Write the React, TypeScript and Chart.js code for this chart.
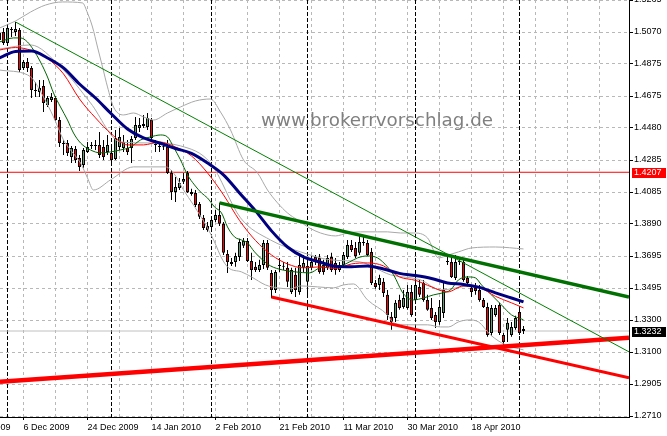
import React, { useEffect, useRef } from 'react';
import { Chart, registerables } from 'chart.js';

Chart.register(...registerables);

// ---------------- data ----------------
// Daily EUR/USD bars (incl. Sunday sessions). Bar index 0 = 1 Dec 2009.
const firstBarIndex = -2;

const opens = [
  1.5019, 1.5069, 1.5001, 1.5087, 1.5069, 1.5081, 1.4848, 1.4884, 1.4848, 1.4712,
  1.4700, 1.4737, 1.4620, 1.4651, 1.4663, 1.4528, 1.4387, 1.4387, 1.4301, 1.4350,
  1.4295, 1.4252, 1.4332, 1.4369, 1.4369, 1.4375, 1.4362, 1.4332, 1.4326, 1.4289,
  1.4362, 1.4356, 1.4356, 1.4356, 1.4418, 1.4479, 1.4491, 1.4485, 1.4528, 1.4375,
  1.4362, 1.4362, 1.4362, 1.4203, 1.4086, 1.4111, 1.4148, 1.4203, 1.4086, 1.4080,
  1.4012, 1.3927, 1.3877, 1.3871, 1.3914, 1.3945, 1.3890, 1.3705, 1.3656, 1.3656,
  1.3687, 1.3755, 1.3785, 1.3662, 1.3626, 1.3607, 1.3638, 1.3773, 1.3589, 1.3484,
  1.3632, 1.3632, 1.3620, 1.3472, 1.3577, 1.3472, 1.3620, 1.3534, 1.3620, 1.3687,
  1.3681, 1.3638, 1.3620, 1.3687, 1.3650, 1.3607, 1.3638, 1.3687, 1.3761, 1.3742,
  1.3712, 1.3773, 1.3773, 1.3718, 1.3527, 1.3515, 1.3534, 1.3454, 1.3319, 1.3312,
  1.3423, 1.3380, 1.3374, 1.3472, 1.3423, 1.3503, 1.3527, 1.3423, 1.3374, 1.3331,
  1.3288, 1.3343, 1.3656, 1.3656, 1.3558, 1.3656, 1.3656, 1.3558, 1.3497, 1.3497,
  1.3484, 1.3423, 1.3380, 1.3220, 1.3331, 1.3392, 1.3208, 1.3239, 1.3208, 1.3251,
  1.3349, 1.3245,
];
const highs = [
  1.5081, 1.5093, 1.5112, 1.5099, 1.5130, 1.5093, 1.4897, 1.4909, 1.4860, 1.4762,
  1.4774, 1.4774, 1.4676, 1.4694, 1.4676, 1.4547, 1.4405, 1.4405, 1.4369, 1.4369,
  1.4313, 1.4356, 1.4393, 1.4393, 1.4405, 1.4455, 1.4405, 1.4436, 1.4375, 1.4467,
  1.4479, 1.4436, 1.4405, 1.4430, 1.4547, 1.4541, 1.4559, 1.4571, 1.4541, 1.4405,
  1.4387, 1.4381, 1.4405, 1.4221, 1.4178, 1.4172, 1.4203, 1.4215, 1.4105, 1.4098,
  1.4025, 1.3945, 1.3902, 1.3927, 1.3976, 1.4019, 1.3902, 1.3730, 1.3681, 1.3712,
  1.3798, 1.3804, 1.3804, 1.3712, 1.3656, 1.3669, 1.3791, 1.3791, 1.3607, 1.3607,
  1.3681, 1.3656, 1.3656, 1.3620, 1.3620, 1.3699, 1.3699, 1.3681, 1.3699, 1.3699,
  1.3705, 1.3669, 1.3699, 1.3712, 1.3681, 1.3656, 1.3718, 1.3791, 1.3791, 1.3779,
  1.3816, 1.3816, 1.3791, 1.3742, 1.3546, 1.3577, 1.3558, 1.3484, 1.3349, 1.3423,
  1.3454, 1.3484, 1.3515, 1.3515, 1.3558, 1.3546, 1.3546, 1.3454, 1.3435, 1.3349,
  1.3423, 1.3527, 1.3687, 1.3699, 1.3699, 1.3681, 1.3681, 1.3570, 1.3515, 1.3527,
  1.3515, 1.3435, 1.3405, 1.3392, 1.3392, 1.3405, 1.3220, 1.3312, 1.3288, 1.3325,
  1.3362, 1.3263,
];
const lows = [
  1.4995, 1.4989, 1.4995, 1.5038, 1.5044, 1.4823, 1.4835, 1.4823, 1.4663, 1.4669,
  1.4669, 1.4577, 1.4608, 1.4639, 1.4522, 1.4362, 1.4313, 1.4307, 1.4264, 1.4264,
  1.4215, 1.4234, 1.4326, 1.4350, 1.4344, 1.4295, 1.4283, 1.4313, 1.4258, 1.4283,
  1.4344, 1.4332, 1.4313, 1.4264, 1.4405, 1.4455, 1.4479, 1.4467, 1.4405, 1.4332,
  1.4332, 1.4344, 1.4197, 1.4037, 1.4025, 1.4098, 1.4135, 1.4080, 1.4062, 1.3994,
  1.3920, 1.3853, 1.3841, 1.3859, 1.3902, 1.3877, 1.3699, 1.3589, 1.3632, 1.3626,
  1.3662, 1.3742, 1.3656, 1.3546, 1.3595, 1.3595, 1.3613, 1.3607, 1.3435, 1.3466,
  1.3595, 1.3607, 1.3503, 1.3460, 1.3441, 1.3454, 1.3595, 1.3441, 1.3607, 1.3638,
  1.3583, 1.3577, 1.3607, 1.3595, 1.3577, 1.3595, 1.3620, 1.3675, 1.3718, 1.3681,
  1.3699, 1.3755, 1.3693, 1.3515, 1.3491, 1.3484, 1.3441, 1.3300, 1.3239, 1.3288,
  1.3362, 1.3368, 1.3362, 1.3319, 1.3405, 1.3441, 1.3411, 1.3356, 1.3300, 1.3251,
  1.3270, 1.3312, 1.3638, 1.3558, 1.3546, 1.3638, 1.3534, 1.3503, 1.3441, 1.3454,
  1.3411, 1.3374, 1.3196, 1.3202, 1.3319, 1.3208, 1.3147, 1.3165, 1.3196, 1.3239,
  1.3208, 1.3214,
];
const closes = [
  1.5062, 1.5001, 1.5093, 1.5081, 1.5087, 1.4835, 1.4884, 1.4848, 1.4712, 1.4706,
  1.4725, 1.4633, 1.4663, 1.4669, 1.4528, 1.4387, 1.4381, 1.4326, 1.4356, 1.4283,
  1.4240, 1.4344, 1.4362, 1.4368, 1.4375, 1.4313, 1.4301, 1.4375, 1.4283, 1.4418,
  1.4424, 1.4393, 1.4332, 1.4412, 1.4498, 1.4498, 1.4504, 1.4541, 1.4418, 1.4381,
  1.4369, 1.4360, 1.4203, 1.4086, 1.4117, 1.4141, 1.4166, 1.4086, 1.4074, 1.4006,
  1.3933, 1.3865, 1.3853, 1.3914, 1.3945, 1.3890, 1.3712, 1.3656, 1.3644, 1.3693,
  1.3779, 1.3785, 1.3662, 1.3607, 1.3607, 1.3638, 1.3773, 1.3620, 1.3484, 1.3595,
  1.3638, 1.3626, 1.3534, 1.3607, 1.3484, 1.3638, 1.3650, 1.3632, 1.3656, 1.3656,
  1.3595, 1.3595, 1.3681, 1.3607, 1.3607, 1.3638, 1.3699, 1.3761, 1.3730, 1.3693,
  1.3779, 1.3779, 1.3699, 1.3527, 1.3503, 1.3558, 1.3466, 1.3331, 1.3288, 1.3405,
  1.3374, 1.3435, 1.3472, 1.3331, 1.3515, 1.3454, 1.3423, 1.3362, 1.3312, 1.3288,
  1.3380, 1.3484, 1.3662, 1.3564, 1.3656, 1.3662, 1.3546, 1.3527, 1.3472, 1.3478,
  1.3423, 1.3380, 1.3208, 1.3374, 1.3374, 1.3220, 1.3165, 1.3282, 1.3257, 1.3312,
  1.3220, 1.3232,
];

// x axis: date labels (bar index) and grid positions
const xTickIdx = [-12, 4, 20, 36, 52, 68, 84, 100, 116];
const xTickLabels = [
  '17 Nov 2009', '6 Dec 2009', '24 Dec 2009', '14 Jan 2010', '2 Feb 2010',
  '21 Feb 2010', '11 Mar 2010', '30 Mar 2010', '18 Apr 2010',
];
const xGridIdx = [-12, -4, 4, 12, 20, 28, 36, 44, 52, 60, 68, 76, 84, 92, 100, 108, 116, 124, 132, 140, 148];
const monthStartIdx = [0, 26, 51, 75, 102, 128];

// y axis labels (top to bottom)
const yTickLabels = [
  '1.5265', '1.5070', '1.4875', '1.4675', '1.4480', '1.4285', '1.4085',
  '1.3890', '1.3695', '1.3495', '1.3300', '1.3100', '1.2905', '1.2710',
];

// Moving averages (sampled every 4 bars)
const maIdx = [-2, 2, 6, 10, 14, 18, 22, 26, 30, 34, 38, 42, 46, 50, 54, 58, 62, 66, 70, 74, 78, 82, 86, 90, 94, 98, 102, 106, 110, 114, 118, 122, 126, 129];
const navyMA = [
  1.4909, 1.4949, 1.4952, 1.4909, 1.4848, 1.4749, 1.4663, 1.4565, 1.4473, 1.4418,
  1.4387, 1.4353, 1.4323, 1.4264, 1.4191, 1.4080, 1.3970, 1.3847, 1.3748, 1.3687,
  1.3656, 1.3629, 1.3626, 1.3632, 1.3613, 1.3586, 1.3573, 1.3555, 1.3527, 1.3518,
  1.3500, 1.3466, 1.3435, 1.3411,
];
const redMA = [
  1.4958, 1.4973, 1.4955, 1.4906, 1.4811, 1.4657, 1.4541, 1.4442, 1.4375, 1.4375,
  1.4393, 1.4362, 1.4307, 1.4203, 1.4068, 1.3911, 1.3788, 1.3699, 1.3644, 1.3620,
  1.3626, 1.3616, 1.3644, 1.3650, 1.3632, 1.3564, 1.3543, 1.3503, 1.3472, 1.3509,
  1.3499, 1.3445, 1.3405, 1.3374,
];
const greenIdx = [
  -2, 1.5, 3.25, 5, 6.5, 8.25, 10, 11.5, 13.25, 15, 16.5, 18.25, 20.75, 23.25, 25.75,
  28.25, 30.75, 33.25, 35.75, 38.25, 40, 41.5, 43.25, 45, 46.75, 48.5, 50, 51.75, 53.5,
  55, 56.75, 58.5, 60, 61.75, 63.75, 65.75, 68.75, 72, 75.5, 78, 80.5, 83, 85.5, 87.5,
  90, 92.5, 95, 96.5, 99, 101.5, 104, 106.5, 108.75, 110.75, 112.75, 115.25, 117, 118.5,
  121, 123.5, 126, 128.5, 129,
];
const greenMA = [
  1.5007, 1.5032, 1.5032, 1.5007, 1.4958, 1.4884, 1.4792, 1.4694, 1.4608, 1.4528, 1.4448,
  1.4387, 1.4344, 1.4326, 1.4332, 1.4344, 1.4362, 1.4405, 1.4424, 1.4436, 1.4424, 1.4362,
  1.4283, 1.4191, 1.4129, 1.4080, 1.4049, 1.3994, 1.3957, 1.3871, 1.3810, 1.3791, 1.3773,
  1.3718, 1.3669, 1.3632, 1.3607, 1.3595, 1.3589, 1.3620, 1.3638, 1.3632, 1.3656, 1.3681,
  1.3693, 1.3681, 1.3626, 1.3577, 1.3460, 1.3423, 1.3435, 1.3454, 1.3466, 1.3484, 1.3546,
  1.3564, 1.3558, 1.3515, 1.3454, 1.3392, 1.3331, 1.3306, 1.3300,
];

// Bollinger bands
const bbUpperIdx = [
  -2, 2, 5.75, 9.5, 13.75, 18.75, 20, 21.25, 22.5, 23.75, 25, 26.5, 29, 31.5, 34, 36.5,
  40, 43.25, 47, 50.75, 53.25, 55.75, 59, 62.5, 65, 67.5, 70, 72.5, 75.5, 78.25, 82, 85,
  88.25, 92.5, 95, 98.25, 101.5, 105, 107.75, 110.25, 112.75, 116, 122, 129,
];
const bbUpper = [
  1.5093, 1.5136, 1.5191, 1.5234, 1.5253, 1.5247, 1.5185, 1.5099, 1.4976, 1.4854, 1.4731,
  1.4608, 1.4559, 1.4571, 1.4547, 1.4528, 1.4571, 1.4608, 1.4645, 1.4657, 1.4577, 1.4467,
  1.4283, 1.4203, 1.4098, 1.4019, 1.3957, 1.3914, 1.3865, 1.3834, 1.3816, 1.3834, 1.3841,
  1.3841, 1.3841, 1.3834, 1.3834, 1.3804, 1.3681, 1.3699, 1.3718, 1.3742, 1.3748, 1.3736,
];
const bbMidIdx = [-2, 5.75, 13.25, 20.75, 28.25, 35.75, 43.25, 50.75, 58.25, 65.75, 73.25, 80.75, 88.25, 95.75, 103.25, 108.25, 115.75, 123.25, 129];
const bbMid = [
  1.4964, 1.4989, 1.4854, 1.4633, 1.4393, 1.4387, 1.4369, 1.4264, 1.3927, 1.3791,
  1.3718, 1.3669, 1.3656, 1.3577, 1.3546, 1.3484, 1.3509, 1.3454, 1.3417,
];
const bbLowerIdx = [
  -2, 5, 6.5, 9, 11.5, 14, 15.75, 18.25, 20, 21.5, 25.75, 31.5, 35.75, 39.5, 41.5, 44,
  46.5, 50, 51.75, 53.5, 55.25, 58.5, 61, 64.5, 67.5, 70.75, 73.25, 77.5, 81.5, 84, 86.5,
  90, 95, 96.5, 100, 105, 108.25, 110.25, 112.75, 115.25, 117.75, 120.75, 124.5, 129,
];
const bbLower = [
  1.4835, 1.4805, 1.4774, 1.4669, 1.4547, 1.4405, 1.4344, 1.4264, 1.4172, 1.4098, 1.4160,
  1.4240, 1.4240, 1.4240, 1.4203, 1.4098, 1.4006, 1.3865, 1.3779, 1.3681, 1.3620, 1.3595,
  1.3564, 1.3515, 1.3497, 1.3491, 1.3509, 1.3503, 1.3497, 1.3515, 1.3521, 1.3423, 1.3331,
  1.3282, 1.3270, 1.3270, 1.3257, 1.3257, 1.3288, 1.3300, 1.3288, 1.3208, 1.3147, 1.3116,
];

// Trend lines (start / end, bar index and price)
const thinGreenIdx = [2, 155.375];
const thinGreenVal = [1.5130, 1.3104];
const thickGreenIdx = [53, 155.375];
const thickGreenVal = [1.4019, 1.3441];
const fallingRedIdx = [66, 155.375];
const fallingRedVal = [1.3441, 1.2944];
const risingRedIdx = [-1.875, 155.375];
const risingRedVal = [1.2920, 1.3190];

const redLevel = 1.4207;
const lastPrice = 1.3232;

// ---------------- component ----------------
export default function App() {
  const canvasRef = useRef<HTMLCanvasElement | null>(null);

  useEffect(() => {
    const canvas = canvasRef.current;
    if (!canvas) return;

    const xMin = -1.875;
    const xMax = 155.375;
    const yTop = parseFloat(yTickLabels[0]);
    const yBottomLabel = parseFloat(yTickLabels[yTickLabels.length - 1]);
    const yStep = (yTop - yBottomLabel) / (yTickLabels.length - 1);
    const yMin = yBottomLabel - yStep / 32;

    const tickFont = { family: '"Liberation Sans", Arial, sans-serif', size: 9 };
    const UP = '#5f9f72';
    const DOWN = '#ff0000';
    const BAND = '#a8a8a8';

    const pts = (idx: number[], val: number[]) => idx.map((x, k) => ({ x, y: val[k] }));
    const wicks = opens.map((_, k) => ({ x: k + firstBarIndex, y: [lows[k], highs[k]] }));
    const bodies = opens.map((o, k) => ({
      x: k + firstBarIndex,
      y: [Math.min(o, closes[k]), Math.max(o, closes[k])],
    }));
    const bodyColors = opens.map((o, k) => (closes[k] > o ? UP : DOWN));

    const lineDs = (data: any[], color: string, width: number, order: number, smooth = true) => ({
      type: 'line' as const,
      data,
      borderColor: color,
      backgroundColor: color,
      borderWidth: width,
      pointRadius: 0,
      fill: false,
      cubicInterpolationMode: smooth ? ('monotone' as const) : ('default' as const),
      tension: 0,
      order,
    });

    const backgroundPlugin = {
      id: 'bgDecor',
      beforeDatasetsDraw(chart: any) {
        const { ctx, chartArea } = chart;
        const xs = chart.scales.x;
        ctx.save();
        // watermark
        ctx.font = '18.3px "DejaVu Sans", Verdana, sans-serif';
        ctx.fillStyle = '#808080';
        ctx.textBaseline = 'alphabetic';
        ctx.textAlign = 'left';
        ctx.fillText('www.brokerrvorschlag.de', 261, 126);
        // period separators
        ctx.strokeStyle = '#000';
        ctx.lineWidth = 1;
        ctx.setLineDash([4, 2]);
        monthStartIdx.forEach((m) => {
          const px = Math.floor(xs.getPixelForValue(m)) + 0.5;
          ctx.beginPath();
          ctx.moveTo(px, chartArea.top);
          ctx.lineTo(px, chartArea.bottom);
          ctx.stroke();
        });
        ctx.restore();
      },
    };

    const tagPlugin = {
      id: 'priceTags',
      afterDraw(chart: any) {
        const { ctx, chartArea } = chart;
        const ys = chart.scales.y;
        const tag = (value: number, bg: string) => {
          const y = Math.round(ys.getPixelForValue(value));
          ctx.save();
          ctx.fillStyle = bg;
          ctx.fillRect(chartArea.right + 3, y - 4, 34, 10);
          ctx.fillStyle = '#fff';
          ctx.font = '9px "Liberation Sans", Arial, sans-serif';
          ctx.textAlign = 'left';
          ctx.textBaseline = 'middle';
          ctx.fillText(value.toFixed(4), chartArea.right + 5, y + 1);
          ctx.restore();
        };
        tag(redLevel, '#ff0000');
        tag(lastPrice, '#000000');
      },
    };

    const chart = new Chart(canvas, {
      type: 'bar',
      data: {
        datasets: [
          // trend lines (top)
          lineDs(pts(thinGreenIdx, thinGreenVal), '#008000', 1, 1, false),
          lineDs(pts(thickGreenIdx, thickGreenVal), '#007000', 3.5, 2, false),
          lineDs(pts(fallingRedIdx, fallingRedVal), '#ff0000', 3, 3, false),
          lineDs(pts(risingRedIdx, risingRedVal), '#ff0000', 4.5, 4, false),
          // indicators
          lineDs(pts(maIdx, navyMA), '#000080', 3, 5),
          lineDs(pts(maIdx, redMA), '#ff0000', 1, 6),
          lineDs(pts(greenIdx, greenMA), '#006400', 1, 7),
          lineDs(pts(bbUpperIdx, bbUpper), BAND, 1, 8),
          lineDs(pts(bbMidIdx, bbMid), BAND, 1, 8),
          lineDs(pts(bbLowerIdx, bbLower), BAND, 1, 8),
          // candles
          {
            type: 'bar' as const,
            data: bodies as any,
            backgroundColor: bodyColors,
            borderColor: '#000',
            borderWidth: 1,
            borderSkipped: false,
            barThickness: 3,
            minBarLength: 1,
            inflateAmount: 0,
            grouped: false,
            order: 9,
          },
          {
            type: 'bar' as const,
            data: wicks as any,
            backgroundColor: '#000',
            borderWidth: 0,
            barThickness: 1,
            inflateAmount: 0,
            grouped: false,
            order: 10,
          },
          // horizontal levels (bottom)
          lineDs([{ x: xMin, y: redLevel }, { x: xMax, y: redLevel }], '#ff0000', 1, 11, false),
          lineDs([{ x: xMin, y: lastPrice }, { x: xMax, y: lastPrice }], '#c0c0c0', 1, 12, false),
        ] as any,
      },
      options: {
        animation: false,
        responsive: false,
        devicePixelRatio: 1,
        events: [],
        layout: { padding: 0 },
        plugins: {
          legend: { display: false },
          tooltip: { enabled: false },
          title: { display: false },
        },
        scales: {
          x: {
            type: 'linear',
            position: 'bottom',
            min: xMin,
            max: xMax,
            offset: false,
            grid: {
              offset: false,
              color: '#b8b8b8',
              lineWidth: 1,
              tickLength: 3,
              tickColor: (c: any) =>
                c.tick && xTickIdx.includes(c.tick.value) ? '#000' : 'rgba(0,0,0,0)',
            },
            border: { display: true, color: '#000', width: 1, dash: [3, 3], z: 1 },
            ticks: {
              autoSkip: false,
              maxRotation: 0,
              minRotation: 0,
              align: 'start',
              padding: 2,
              color: '#000',
              font: tickFont,
              callback: (v: any) => {
                const k = xTickIdx.indexOf(Number(v));
                return k >= 0 ? xTickLabels[k] : '';
              },
            },
            afterBuildTicks: (s: any) => {
              s.ticks = xGridIdx.map((v) => ({ value: v }));
            },
            afterFit: (s: any) => {
              s.height = 19;
              s.paddingLeft = 0;
              s.paddingRight = 0;
            },
          },
          y: {
            type: 'linear',
            position: 'right',
            min: yMin,
            max: yTop,
            beginAtZero: false,
            grid: {
              color: '#b8b8b8',
              lineWidth: 1,
              tickLength: 4,
              tickColor: '#000',
            },
            border: { display: true, color: '#000', width: 1, dash: [3, 3], z: 1 },
            ticks: {
              autoSkip: false,
              padding: 1,
              color: '#000',
              font: tickFont,
              callback: (_v: any, i: number) => yTickLabels[yTickLabels.length - 1 - i],
            },
            afterBuildTicks: (s: any) => {
              s.ticks = yTickLabels
                .map((_, k) => ({ value: yTop - k * yStep }))
                .reverse();
            },
            afterFit: (s: any) => {
              s.width = 38;
              s.paddingTop = 0;
              s.paddingBottom = 0;
            },
          },
        },
      } as any,
      plugins: [backgroundPlugin, tagPlugin],
    });

    return () => chart.destroy();
  }, []);

  return (
    <div style={{ position: 'absolute', left: 0, top: 0, width: 667, height: 436, background: '#fff' }}>
      <canvas ref={canvasRef} width={667} height={436} style={{ display: 'block', width: 667, height: 436 }} />
    </div>
  );
}
